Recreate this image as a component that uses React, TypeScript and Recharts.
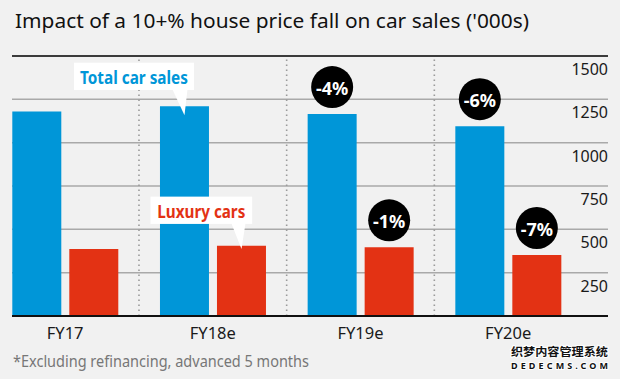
import React from 'react';
import { BarChart, Bar, XAxis, YAxis, CartesianGrid, ReferenceLine, LabelList } from 'recharts';

const categories = ['FY17', 'FY18e', 'FY19e', 'FY20e'];
const totalSales = [1180, 1210, 1165, 1095];
const luxurySales = [387, 406, 396, 352];
const totalChange = ['', '', '-4%', '-6%'];
const luxuryChange = ['', '', '-1%', '-7%'];
const totalCallout = ['', 'Total car sales', '', ''];
const luxuryCallout = ['', 'Luxury cars', '', ''];
const yTicks = [0, 250, 500, 750, 1000, 1250, 1500];

const titleText = "Impact of a 10+% house price fall on car sales ('000s)";
const footnoteText = '*Excluding refinancing, advanced 5 months';

const BLUE = '#0096d8';
const RED = '#e33214';
const FONT = "'Noto Sans', sans-serif";

const data = categories.map((c, i) => ({
  cat: c,
  total: totalSales[i],
  luxury: luxurySales[i],
  totalChange: totalChange[i],
  luxuryChange: luxuryChange[i],
  totalCallout: totalCallout[i],
  luxuryCallout: luxuryCallout[i],
}));

const ChangeBadge = (props: any) => {
  const { x, y, width, value } = props;
  if (!value) return null;
  const cx = Number(x) + Number(width) / 2;
  const cy = Number(y) - 27;
  return (
    <g>
      <circle cx={cx} cy={cy} r={21} fill="#000" />
      <text x={cx} y={cy + 1} textAnchor="middle" dominantBaseline="central" fill="#fff" fontWeight={700} fontSize={18} fontFamily={FONT}>
        {value}
      </text>
    </g>
  );
};

const makeCallout = (color: string, left: number, right: number, top: number, bottom: number, tl: number, tr: number, tip: number, textLen: number) =>
  (props: any) => {
    const { x, y, width, value } = props;
    if (!value) return null;
    const cx = Number(x) + Number(width) / 2;
    const yb = Number(y);
    const bx0 = cx + left;
    const bx1 = cx + right;
    const by0 = yb + top;
    const by1 = yb + bottom;
    return (
      <g>
        <rect x={bx0} y={by0} width={bx1 - bx0} height={by1 - by0} fill="#fff" />
        <polygon points={`${cx + tl},${by1 - 0.5} ${cx + tr},${by1 - 0.5} ${cx},${yb + tip}`} fill="#fff" />
        <text x={(bx0 + bx1) / 2} y={(by0 + by1) / 2 + 1} textAnchor="middle" dominantBaseline="central" fill={color} fontWeight={700} fontSize={17} fontFamily={FONT} textLength={textLen} lengthAdjust="spacingAndGlyphs">
          {value}
        </text>
      </g>
    );
  };

const TotalCallout = makeCallout(BLUE, -110.5, 9.5, -43.6, -16.3, -12, 3, 9, 108);
const LuxuryCallout = makeCallout(RED, -91, 10.7, -49, -21.7, -10, 4, 3.3, 88);

const YTick = (props: any) => {
  const { x, y, payload } = props;
  if (!payload || payload.value === 0) return null;
  return (
    <text x={x} y={Number(y) + 13} textAnchor="end" dominantBaseline="central" fill="#1a1a1a" fontSize={16} fontFamily={FONT}>
      {payload.value}
    </text>
  );
};

const XTick = (props: any) => {
  const { x, y, payload } = props;
  return (
    <text x={x} y={Number(y) + 16} textAnchor="middle" dominantBaseline="central" fill="#1a1a1a" fontSize={16.5} fontFamily={FONT}>
      {payload.value}
    </text>
  );
};

export default function App() {
  return (
    <div style={{ position: 'absolute', left: 0, top: 0, width: 620, height: 379, background: '#f1f1f1', overflow: 'hidden' }}>
      <div style={{ position: 'absolute', left: 0, top: 0 }}>
        <BarChart width={620} height={379} data={data} margin={{ top: 56, right: 11, bottom: 62, left: 12 }} barSize={49} barGap={8}>
          <CartesianGrid horizontal vertical={false} stroke="#a9a9a9" strokeWidth={1.5} />
          <XAxis
            dataKey="cat"
            height={1}
            padding={{ left: -20.7, right: 26 }}
            axisLine={{ stroke: '#111', strokeWidth: 2 }}
            tickLine={false}
            tickSize={0}
            tickMargin={0}
            tick={<XTick />}
            interval={0}
          />
          <YAxis
            orientation="right"
            width={1}
            domain={[0, 1500]}
            ticks={yTicks}
            axisLine={false}
            tickLine={false}
            tickSize={0}
            tickMargin={0}
            tick={<YTick />}
            interval={0}
          />
          <ReferenceLine x="FY18e" position="start" stroke="#9a9a9a" strokeWidth={1.6} strokeDasharray="1.6 3.4" />
          <ReferenceLine x="FY19e" position="start" stroke="#9a9a9a" strokeWidth={1.6} strokeDasharray="1.6 3.4" />
          <ReferenceLine x="FY20e" position="start" stroke="#9a9a9a" strokeWidth={1.6} strokeDasharray="1.6 3.4" />
          <ReferenceLine y={1500} stroke="#111" strokeWidth={1.5} />
          <Bar dataKey="total" fill={BLUE} isAnimationActive={false}>
            <LabelList dataKey="totalChange" content={ChangeBadge} />
            <LabelList dataKey="totalCallout" content={TotalCallout} />
          </Bar>
          <Bar dataKey="luxury" fill={RED} isAnimationActive={false}>
            <LabelList dataKey="luxuryChange" content={ChangeBadge} />
            <LabelList dataKey="luxuryCallout" content={LuxuryCallout} />
          </Bar>
        </BarChart>
      </div>
      <svg width={620} height={379} style={{ position: 'absolute', left: 0, top: 0, pointerEvents: 'none' }}>
        <text x={15} y={28.3} fill="#111" fontSize={20} fontFamily={FONT} textLength={514} lengthAdjust="spacingAndGlyphs">
          {titleText}
        </text>
        <text x={13} y={366.7} fill="#777" fontSize={16} fontFamily={FONT} textLength={296} lengthAdjust="spacingAndGlyphs">
          {footnoteText}
        </text>
        <text x={511} y={356} fill="#111" stroke="#fff" strokeWidth={2} paintOrder="stroke" fontSize={11} fontWeight={700} fontFamily="'Noto Sans CJK SC', sans-serif" textLength={97} lengthAdjust="spacingAndGlyphs">
          织梦内容管理系统
        </text>
        <text x={511} y={369} fill="#111" stroke="#fff" strokeWidth={2} paintOrder="stroke" fontSize={9} fontWeight={700} fontFamily={FONT} textLength={97} lengthAdjust="spacing">
          DEDECMS.COM
        </text>
      </svg>
    </div>
  );
}
